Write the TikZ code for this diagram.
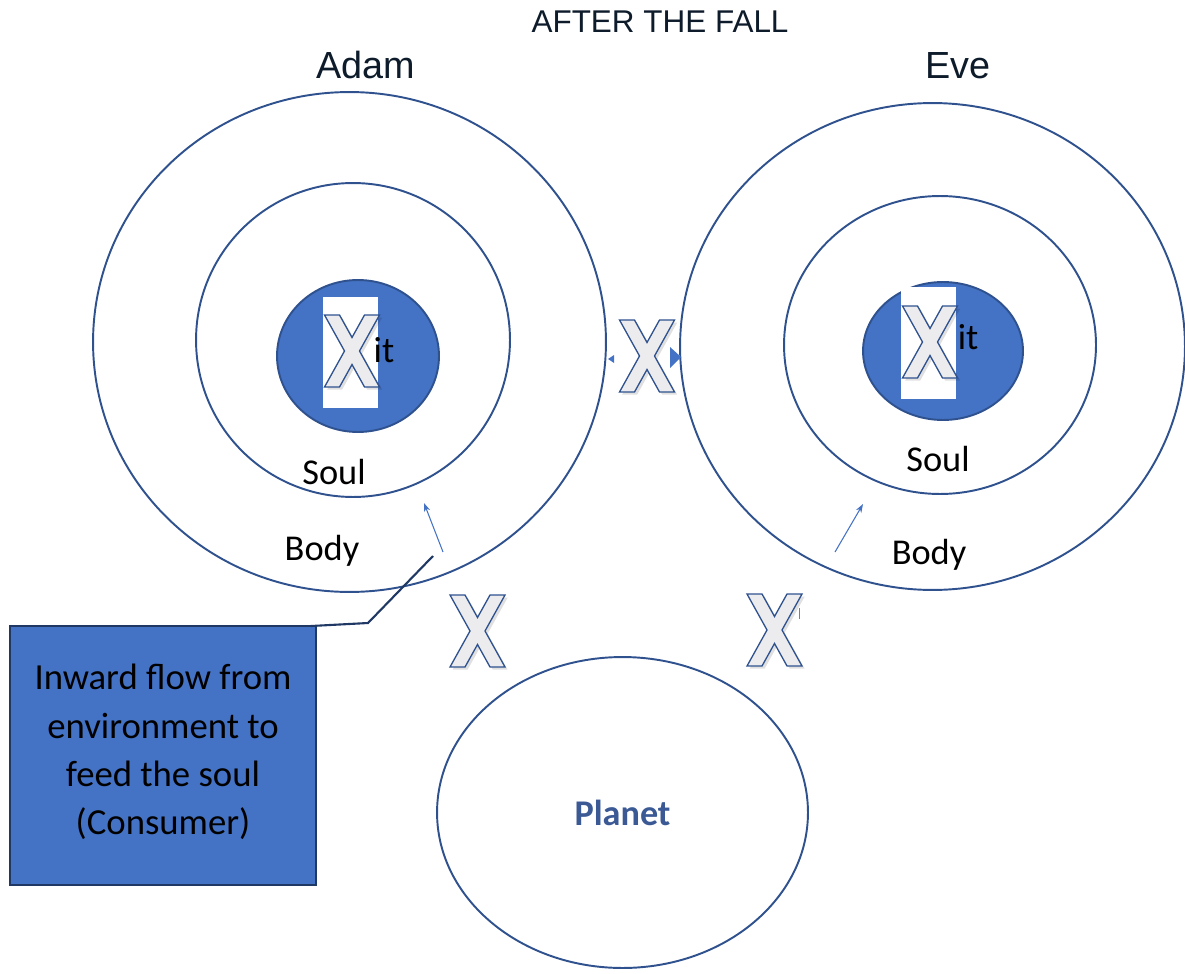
\documentclass[tikz,border=0pt]{standalone}
\usepackage{fontspec}
\setmainfont{Carlito}
\newfontfamily\arialf{Liberation Sans}
\usetikzlibrary{arrows.meta,shadows,shapes.geometric}
\definecolor{ring}{HTML}{2F528F}
\definecolor{accent}{HTML}{4472C4}
\definecolor{navy}{HTML}{1F3864}
\definecolor{titlec}{HTML}{0D1B2A}
\definecolor{xfill}{HTML}{ECECEE}
\definecolor{planetc}{HTML}{3B5A95}
\tikzset{
  ringnode/.style={shape=ellipse, draw=ring, line width=1.1pt, inner sep=0pt, outer sep=0pt},
  core/.style={ringnode, fill=accent},
  xmark/.style={fill=xfill, draw=ring, line width=0.75pt, line join=miter,
    drop shadow={shadow xshift=1.5pt, shadow yshift=-1.5pt, opacity=0.12, fill=black}},
  flow/.style={draw=accent, line width=0.6pt, -{Stealth[length=5pt,width=3.5pt]}},
  callout/.style={draw=navy, line width=1.2pt},
  lbl/.style={font=\fontsize{20.7pt}{24pt}\selectfont, inner sep=0pt, anchor=base, text=black},
  namelbl/.style={font=\arialf\fontsize{21.5pt}{24pt}\selectfont, inner sep=0pt, anchor=base, text=titlec},
  titlelbl/.style={font=\arialf\fontsize{17.9pt}{20pt}\selectfont, inner sep=0pt, anchor=base, text=titlec},
  notebox/.style={draw=navy, line width=1.2pt, fill=accent, minimum width=6.12cm, minimum height=5.18cm,
    inner sep=0pt, outer sep=0pt},
  notetext/.style={align=center, inner sep=0pt, font=\fontsize{20.9pt}{27.5pt}\selectfont},
  bigx/.pic={\path[xmark] (-27.5,-36) -- (-12.5,-36) -- (0,-13.5) -- (12.5,-36) -- (27.5,-36) -- (7.5,0)
      -- (27.5,36) -- (12.5,36) -- (0,13.5) -- (-12.5,36) -- (-27.5,36) -- (-7.5,0) -- cycle;}
}
\begin{document}
\begin{tikzpicture}[x=0.02cm,y=-0.02cm]
\useasboundingbox (0,0) rectangle (1185,973);

% title and names
\node[titlelbl] (title) at (660,33) {AFTER THE FALL};
\node[namelbl] (adamName) at (366,79) {Adam};
\node[namelbl] (eveName) at (958,79) {Eve};

% Adam
\node[ringnode, minimum width=10.26cm, minimum height=10cm] (adamOuter) at (349.5,342) {};
\node[ringnode, minimum width=6.28cm, minimum height=6.28cm] (adamMid) at (353,340) {};
\node[core, minimum width=3.24cm, minimum height=3.04cm] (adamCore) at (358,356) {};
\fill[white] (323,297) rectangle (378,408);
\node[lbl] (adamIt) at (384,362) {it};
\pic (adamX) at (352,351) {bigx};
\node[lbl] (adamSoul) at (334,484) {Soul};
\node[lbl] (adamBody) at (322,560) {Body};

% Eve
\node[ringnode, minimum width=10.1cm, minimum height=9.74cm] (eveOuter) at (932.5,346.5) {};
\node[ringnode, minimum width=6.24cm, minimum height=5.96cm] (eveMid) at (940,345) {};
\node[core, minimum width=3.2cm, minimum height=2.76cm] (eveCore) at (943,351) {};
\fill[white] (901,287) rectangle (956,399);
\node[lbl] (eveIt) at (968,349) {it};
\pic (eveX) at (930,342) {bigx};
\node[lbl] (eveSoul) at (938,471) {Soul};
\node[lbl] (eveBody) at (929,564) {Body};

% between the two
\fill[accent] (608,359) -- (614,355) -- (614,363) -- cycle;
\fill[accent] (681,357) -- (670,347) -- (670,368) -- cycle;
\pic (midX) at (647,356) {bigx};

% planet
\node[ringnode, minimum width=7.42cm, minimum height=6.22cm, text=planetc,
  font=\bfseries\fontsize{20.6pt}{24pt}\selectfont] (planet) at (622.5,812.5) {Planet};
\pic (leftX) at (477.5,631) {bigx};
\pic (rightX) at (774.5,630) {bigx};
\draw[gray, line width=0.5pt] (799,608) -- (799,619);

% inward flow arrows
\coordinate (adamFlowS) at (443,552);
\coordinate (adamFlowE) at (424,503);
\coordinate (eveFlowS) at (835,552);
\coordinate (eveFlowE) at (863,504);
\draw[flow] (adamFlowS) -- (adamFlowE);
\draw[flow] (eveFlowS) -- (eveFlowE);

% callout
\node[notebox] (note) at (163,755.5) {};
\node[notetext] (noteText) at (163,752) {Inward flow from\\environment to\\feed the soul\\(Consumer)};
\coordinate (elbow) at (368,623);
\coordinate (tip) at (433,556);
\draw[callout] ([xshift=-3pt]note.north east) -- (elbow) -- (tip);
\end{tikzpicture}
\end{document}
